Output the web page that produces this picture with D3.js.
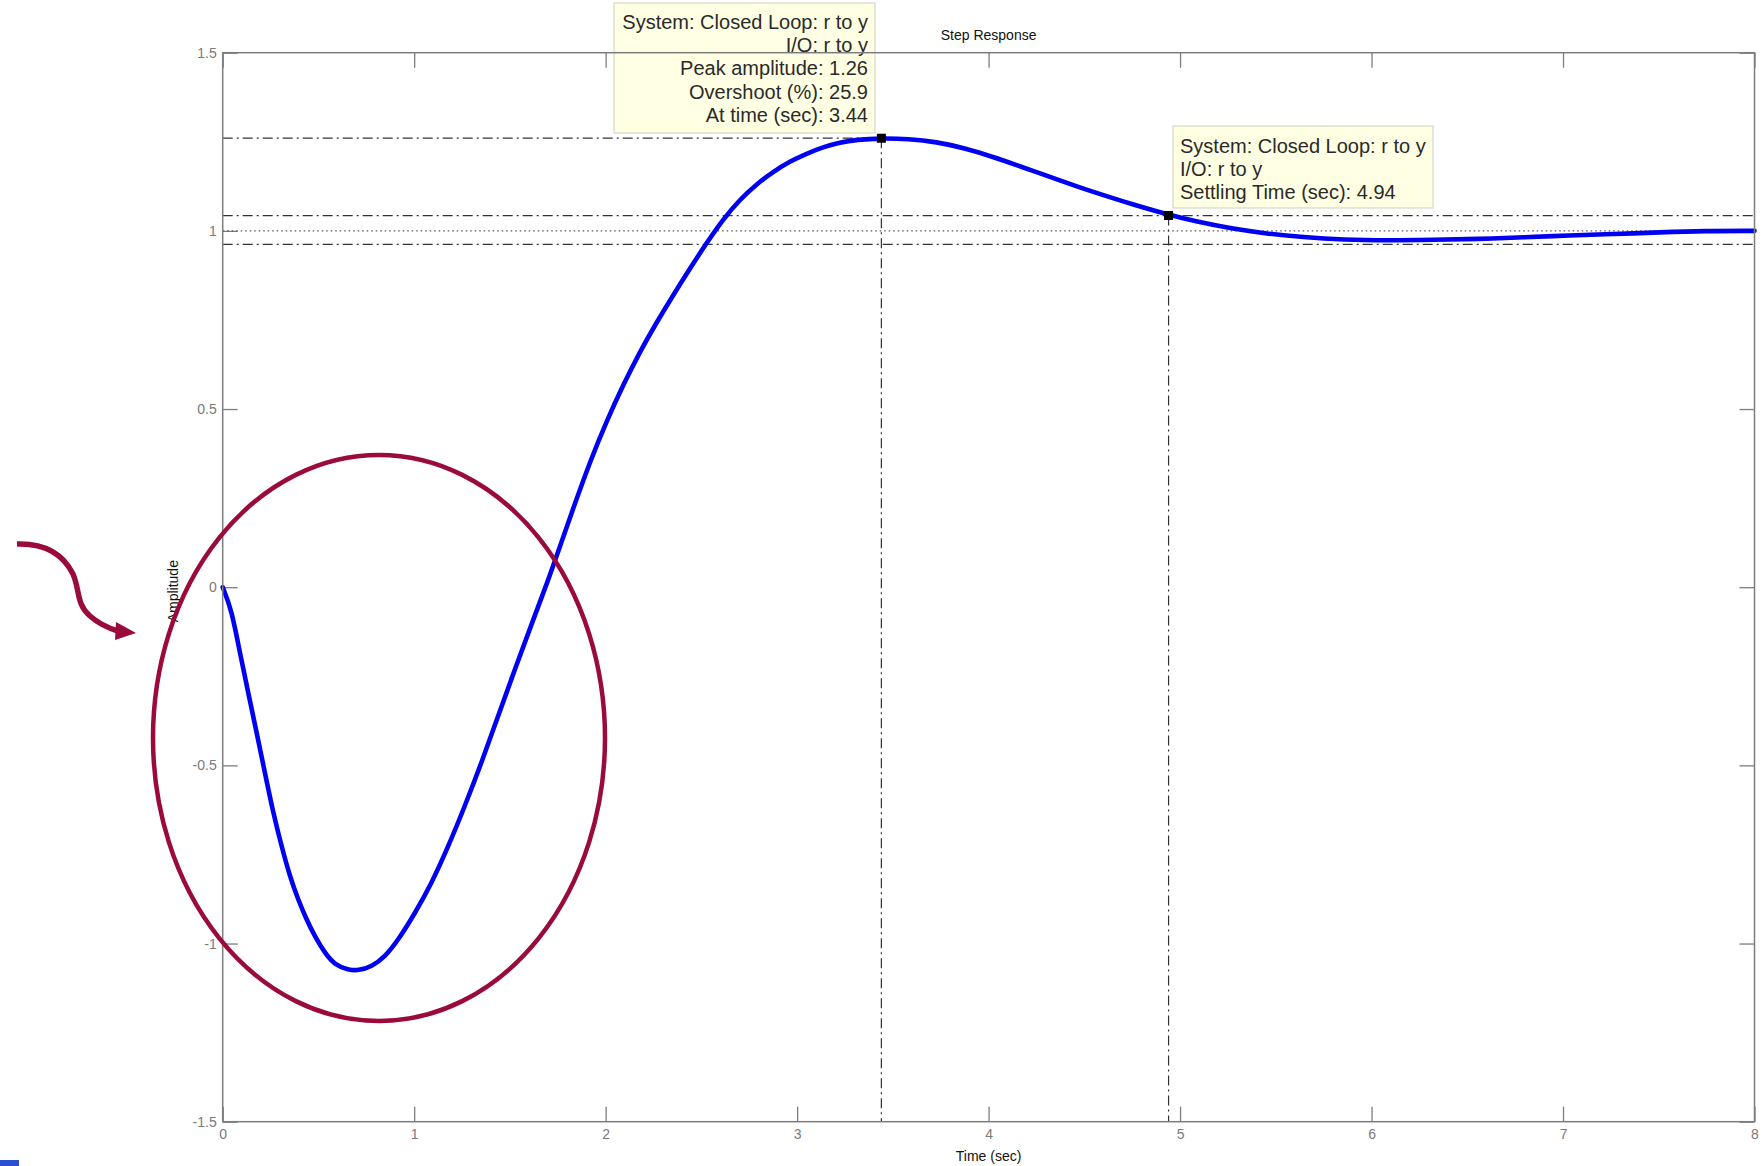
<!DOCTYPE html>
<html>
<head>
<meta charset="utf-8">
<script src="https://cdn.jsdelivr.net/npm/d3@7"></script>
<style>
  html, body { margin: 0; padding: 0; background: #fff; }
  svg { display: block; }
  text { font-family: "Liberation Sans", Arial, Helvetica, sans-serif; }
</style>
</head>
<body>
<svg id="chart" width="1763" height="1166"></svg>
<script>
// Step response of the closed loop r -> y (non-minimum phase undershoot)
const time = [0, 0.047, 0.09, 0.134, 0.178, 0.221, 0.264, 0.308, 0.351, 0.395, 0.439, 0.482,
  0.534, 0.586, 0.656, 0.708, 0.778, 0.848, 0.917, 1.004, 1.091, 1.178, 1.265, 1.352, 1.439,
  1.526, 1.613, 1.700, 1.744, 1.831, 1.918, 2.005, 2.092, 2.179, 2.266, 2.353, 2.440, 2.527,
  2.614, 2.701, 2.788, 2.875, 2.962, 3.050, 3.136, 3.223, 3.310, 3.44, 3.58, 3.727, 3.875,
  4.022, 4.17, 4.317, 4.465, 4.612, 4.76, 4.94, 5.085, 5.262, 5.439, 5.645, 5.852, 6.088,
  6.324, 6.56, 6.795, 7.032, 7.268, 7.504, 7.74, 8.0];
const amplitude = [0, -0.064, -0.185, -0.298, -0.41, -0.522, -0.634, -0.728, -0.812, -0.878,
  -0.934, -0.981, -1.027, -1.06, -1.074, -1.076, -1.065, -1.037, -0.99, -0.915, -0.831, -0.728,
  -0.614, -0.492, -0.361, -0.230, -0.104, 0.020, 0.088, 0.222, 0.352, 0.466, 0.568, 0.661,
  0.743, 0.820, 0.894, 0.966, 1.033, 1.088, 1.131, 1.166, 1.195, 1.217, 1.235, 1.248, 1.256,
  1.26, 1.258, 1.25, 1.232, 1.208, 1.18, 1.152, 1.124, 1.098, 1.073, 1.045, 1.026, 1.007,
  0.993, 0.982, 0.975, 0.973, 0.975, 0.977, 0.982, 0.987, 0.991, 0.996, 1.0, 1.0];

const xTicks = [0, 1, 2, 3, 4, 5, 6, 7, 8];
const yTicks = [-1.5, -1, -0.5, 0, 0.5, 1, 1.5];

const finalValue = 1;
const settlingBand = [0.962, 1.043];
const peakPoint = { t: 3.44, y: 1.26 };
const settlePoint = { t: 4.94, y: 1.043 };

const peakTip = ["System: Closed Loop: r to y", "I/O: r to y", "Peak amplitude: 1.26",
  "Overshoot (%): 25.9", "At time (sec): 3.44"];
const settleTip = ["System: Closed Loop: r to y", "I/O: r to y", "Settling Time (sec): 4.94"];

const svg = d3.select("#chart");
const L = 222.7, R = 1754.5, T = 52.7, B = 1121.7;

const x = d3.scaleLinear().domain([0, 8]).range([L, R]);
const y = d3.scaleLinear().domain([-1.5, 1.5]).range([B, T]);

svg.append("rect").attr("width", 1763).attr("height", 1166).attr("fill", "#fff");

const axisColor = "#7d7d7d";
const labelColor = "#7a7a7a";
const fmt = d => String(d);

function styleAxis(g) {
  g.select(".domain").remove();
  g.selectAll(".tick line").attr("stroke", axisColor).attr("stroke-width", 1.3);
  g.selectAll(".tick text").attr("fill", labelColor).attr("font-size", 14)
    .attr("font-family", "'Liberation Sans', Arial, sans-serif");
}

svg.append("g").attr("transform", `translate(0,${B})`)
  .call(d3.axisBottom(x).tickValues(xTicks).tickFormat(fmt).tickSize(-15).tickPadding(7))
  .call(styleAxis);
svg.append("g").attr("transform", `translate(0,${T})`)
  .call(d3.axisTop(x).tickValues(xTicks).tickFormat("").tickSize(-15))
  .call(styleAxis);
svg.append("g").attr("transform", `translate(${L},0)`)
  .call(d3.axisLeft(y).tickValues(yTicks).tickFormat(fmt).tickSize(-15).tickPadding(6))
  .call(styleAxis);
svg.append("g").attr("transform", `translate(${R},0)`)
  .call(d3.axisRight(y).tickValues(yTicks).tickFormat("").tickSize(-15))
  .call(styleAxis);

// Reference lines: final value, settling band, peak and settling guides
const dashDot = "10,4,2,4";
const guides = svg.append("g").attr("fill", "none");
guides.append("line").attr("x1", L).attr("x2", R).attr("y1", y(finalValue)).attr("y2", y(finalValue))
  .attr("stroke", "#555").attr("stroke-width", 1.2).attr("stroke-dasharray", "1.5,3");
settlingBand.forEach(v => {
  guides.append("line").attr("x1", L).attr("x2", R).attr("y1", y(v)).attr("y2", y(v))
    .attr("stroke", "#333").attr("stroke-width", 1.2).attr("stroke-dasharray", dashDot);
});
guides.append("line").attr("x1", L).attr("x2", x(peakPoint.t)).attr("y1", y(peakPoint.y)).attr("y2", y(peakPoint.y))
  .attr("stroke", "#333").attr("stroke-width", 1.2).attr("stroke-dasharray", dashDot);
guides.append("line").attr("x1", x(peakPoint.t)).attr("x2", x(peakPoint.t)).attr("y1", y(peakPoint.y)).attr("y2", B)
  .attr("stroke", "#333").attr("stroke-width", 1.2).attr("stroke-dasharray", dashDot);
guides.append("line").attr("x1", x(settlePoint.t)).attr("x2", x(settlePoint.t)).attr("y1", y(settlePoint.y)).attr("y2", B)
  .attr("stroke", "#333").attr("stroke-width", 1.2).attr("stroke-dasharray", dashDot);

// Response curve
const series = time.map((t, i) => [t, amplitude[i]]);
svg.append("path").datum(series)
  .attr("fill", "none").attr("stroke", "#0000f2").attr("stroke-width", 4.6)
  .attr("stroke-linejoin", "round").attr("stroke-linecap", "round")
  .attr("d", d3.line().x(d => x(d[0])).y(d => y(d[1])).curve(d3.curveBasis));

// Data-tip markers
[peakPoint, settlePoint].forEach(p => {
  svg.append("rect").attr("x", x(p.t) - 4.5).attr("y", y(p.y) - 4.5)
    .attr("width", 9).attr("height", 9).attr("fill", "#000");
});

// Data-tip boxes
function tip(lines, bx, by, bw, bh, anchor, tx, firstBase) {
  const g = svg.append("g");
  g.append("rect").attr("x", bx).attr("y", by).attr("width", bw).attr("height", bh)
    .attr("fill", "#ffffe3").attr("stroke", "#cfcfbf").attr("stroke-width", 1);
  g.selectAll("text").data(lines).join("text")
    .attr("x", tx).attr("y", (d, i) => firstBase + i * 23.2)
    .attr("text-anchor", anchor).attr("font-size", 20).attr("fill", "#2a2a2a")
    .text(d => d);
}
tip(peakTip, 614, 3, 261, 130, "end", 868, 29);
tip(settleTip, 1173, 126, 260, 82, "start", 1180, 153);

// Axes frame
svg.append("rect").attr("x", L).attr("y", T).attr("width", R - L).attr("height", B - T)
  .attr("fill", "none").attr("stroke", axisColor).attr("stroke-width", 1.5);

// Titles
svg.append("text").attr("x", (L + R) / 2).attr("y", 40).attr("text-anchor", "middle")
  .attr("font-size", 14).attr("fill", "#111").text("Step Response");
svg.append("text").attr("x", (L + R) / 2).attr("y", 1161).attr("text-anchor", "middle")
  .attr("font-size", 14).attr("fill", "#111").text("Time (sec)");
svg.append("text").attr("transform", `translate(178,${(T + B) / 2 + 4}) rotate(-90)`)
  .attr("text-anchor", "middle").attr("font-size", 14).attr("fill", "#111").text("Amplitude");

// Highlight of the initial undershoot
const accent = "#9a0b3b";
svg.append("ellipse").attr("cx", 379).attr("cy", 738).attr("rx", 226).attr("ry", 283)
  .attr("fill", "none").attr("stroke", accent).attr("stroke-width", 4.5);
svg.append("path")
  .attr("d", "M17,544 C48,543 64,556 73,574 C80,590 76,604 90,616 C99,624 108,628 118,631")
  .attr("fill", "none").attr("stroke", accent).attr("stroke-width", 5.5);
svg.append("path").attr("d", "M116,622 L136,633 L115,640 Z").attr("fill", accent);

// Small mark at the lower left corner
svg.append("rect").attr("x", 0).attr("y", 1160).attr("width", 19).attr("height", 6).attr("fill", "#2a4fd0");
</script>
</body>
</html>
